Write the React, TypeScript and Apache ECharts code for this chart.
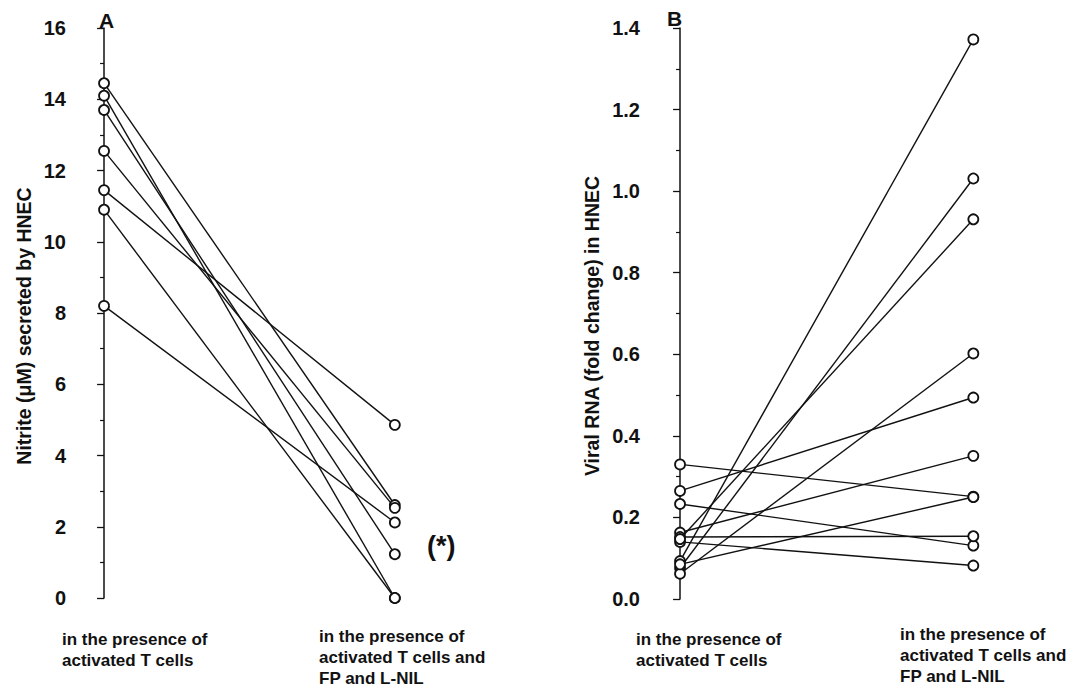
import React, { useEffect, useRef } from "react";
import * as echarts from "echarts";

// Panel A: nitrite (µM) secreted by HNEC, paired values
const aBefore = [14.45, 14.1, 13.7, 12.55, 11.45, 10.9, 8.2];
const aAfter = [2.61, 0, 1.23, 2.53, 4.86, 0, 2.12];

// Panel B: viral RNA (fold change), paired values
const bBefore = [0.33, 0.265, 0.233, 0.163, 0.152, 0.14, 0.147, 0.093, 0.076, 0.062, 0.085];
const bAfter = [0.251, 0.494, 0.131, 0.351, 0.154, 0.082, 0.931, 1.372, 1.031, 0.602, 0.25];

const conditionPos = [0, 1];
const condLeft = ["in the presence of", "activated T cells"];
const condRight = ["in the presence of", "activated T cells and", "FP and L-NIL"];

const yNameA = "Nitrite (\u03bcM) secreted by HNEC";
const yNameB = "Viral RNA (fold change) in HNEC";

const FONT = "'Liberation Sans', Arial, Helvetica, sans-serif";

function pairSeries(before: number[], after: number[], idx: number) {
  return before.map((b, i) => ({
    type: "line",
    xAxisIndex: idx,
    yAxisIndex: idx,
    data: [
      [conditionPos[0], b],
      [conditionPos[1], after[i]],
    ],
    symbol: "circle",
    symbolSize: 10,
    showSymbol: true,
    clip: false,
    lineStyle: { color: "#111", width: 1.4 },
    itemStyle: { color: "#fff", borderColor: "#111", borderWidth: 1.8 },
    z: 2,
  }));
}

export default function App() {
  const ref = useRef<HTMLDivElement>(null);
  useEffect(() => {
    if (!ref.current) return;
    const chart = echarts.init(ref.current, undefined, { renderer: "svg" });
    const yAxisCommon = {
      type: "value",
      axisLine: { show: true, lineStyle: { color: "#111", width: 1.5 } },
      axisTick: { show: true, length: 7, lineStyle: { color: "#111", width: 1.3 } },
      minorTick: { show: true, splitNumber: 2, length: 4, lineStyle: { color: "#111", width: 1.2 } },
      splitLine: { show: false },
      axisLabel: { fontFamily: FONT, fontWeight: "bold", fontSize: 20, color: "#111", margin: 11 },
    };
    const xAxisCommon = {
      type: "value",
      show: false,
      max: 1.2,
      splitLine: { show: false },
    };
    const textStyle = { fontFamily: FONT, fontWeight: "bold", fontSize: 17, fill: "#111", lineHeight: 21 };
    const nameStyle = { fontFamily: FONT, fontWeight: "bold", fontSize: 19.5, fill: "#111", align: "center", verticalAlign: "middle" };
    const panelStyle = { fontFamily: FONT, fontWeight: "bold", fontSize: 21, fill: "#111" };
    chart.setOption({
      animation: false,
      backgroundColor: "#fff",
      grid: [
        { left: 77, top: 28, width: 376, height: 570 },
        { left: 651, top: 28, width: 381, height: 571 },
      ],
      xAxis: [
        { ...xAxisCommon, gridIndex: 0, min: -0.093 },
        { ...xAxisCommon, gridIndex: 1, min: -0.099 },
      ],
      yAxis: [
        { ...yAxisCommon, gridIndex: 0, min: 0, max: 16, interval: 2 },
        {
          ...yAxisCommon,
          gridIndex: 1,
          min: 0,
          max: 1.4,
          interval: 0.2,
          axisLabel: { ...yAxisCommon.axisLabel, formatter: (v: number) => v.toFixed(1) },
        },
      ],
      series: [...pairSeries(aBefore, aAfter, 0), ...pairSeries(bBefore, bAfter, 1)],
      graphic: [
        { type: "text", x: 24, y: 326, rotation: Math.PI / 2, style: { ...nameStyle, text: yNameA } },
        { type: "text", x: 592, y: 326, rotation: Math.PI / 2, style: { ...nameStyle, text: yNameB } },
        { type: "text", left: 99, top: 10, style: { ...panelStyle, text: "A" } },
        { type: "text", left: 667, top: 8, style: { ...panelStyle, text: "B" } },
        { type: "text", left: 427, top: 532, style: { text: "(*)", fontFamily: FONT, fontWeight: "bold", fontSize: 27, fill: "#111" } },
        { type: "text", left: 62, top: 629, style: { ...textStyle, text: condLeft.join("\n") } },
        { type: "text", left: 319, top: 626, style: { ...textStyle, text: condRight.join("\n") } },
        { type: "text", left: 636, top: 629, style: { ...textStyle, text: condLeft.join("\n") } },
        { type: "text", left: 900, top: 624, style: { ...textStyle, text: condRight.join("\n") } },
      ],
    });
    return () => chart.dispose();
  }, []);
  return (
    <div
      ref={ref}
      style={{ position: "fixed", left: 0, top: 0, width: 1078, height: 695, background: "#fff" }}
    />
  );
}
